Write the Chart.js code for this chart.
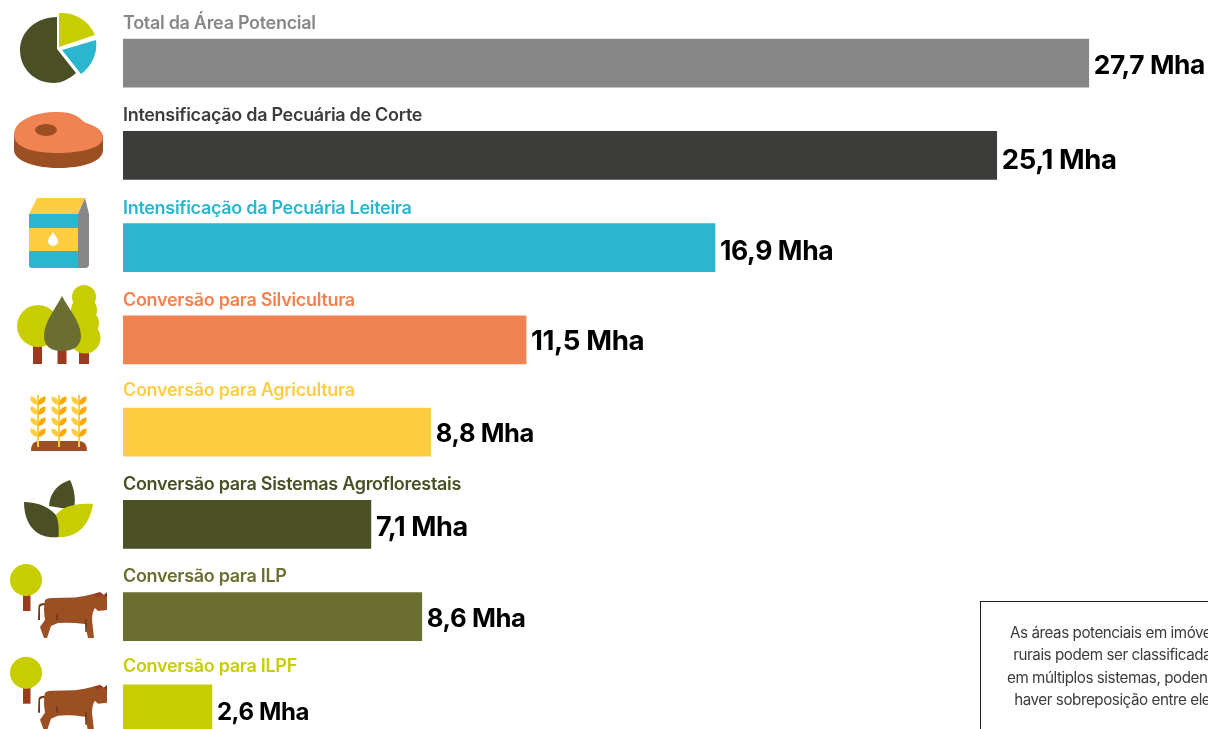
<!DOCTYPE html>
<html lang="pt">
<head>
<meta charset="utf-8">
<title>Área potencial</title>
<script src="https://cdn.jsdelivr.net/npm/chart.js@4"></script>
<style>
  html, body { margin: 0; background: #fff; width: 1208px; height: 729px; overflow: hidden; }
  #myChart { position: absolute; left: 0; top: 0; }
  #icons { position: absolute; left: 0; top: 0; }
  .note {
    position: absolute; left: 980px; top: 601px; width: 272px; height: 160px;
    border: 1px solid #1d1d1b; box-sizing: border-box; padding-top: 20px;
    font: 15.2px/22.3px Inter, sans-serif; letter-spacing: -0.45px; color: #3c3c3b; text-align: center;
  }
</style>
</head>
<body>
<canvas id="myChart" width="1208" height="770"></canvas>

<svg id="icons" width="1208" height="729" viewBox="0 0 1208 729">
  <defs>
    <g id="leafPair">
      <path d="M0 0 C-6 -1 -8 -4 -7.5 -8.5 C-3 -8.5 0 -5 0 0Z" fill="#ffcd42"/>
      <path d="M0 0 C6 -1 8 -4 7.5 -8.5 C3 -8.5 0 -5 0 0Z" fill="#fba800"/>
    </g>
    <g id="wheat">
      <rect x="-1" y="0" width="2" height="52" fill="#ffcd42"/>
      <use href="#leafPair" y="10"/>
      <use href="#leafPair" y="20"/>
      <use href="#leafPair" y="31"/>
      <use href="#leafPair" y="42"/>
    </g>
    <g id="treeCow">
      <rect x="23" y="594" width="7.5" height="17" fill="#9b3a1f"/>
      <circle cx="26" cy="580" r="16" fill="#c8cd00"/>
      <path d="M38 620 L38.5 606 Q39 603 45 603 L45 605 Q41 605 40 607 L40 620Z" fill="#6b3a1c"/>
      <path d="M45 600 Q47 598 52 598 L75 597.5 Q85 596 93 594 L103 595 L107 594 L107 610 L98 611 L95 608 Q92 612 92 620 L94 638 L88 638 L85 624 Q70 622 58 623 L51 626 L47 638 L44 638 L40 627 L45 620 Q43 608 45 600Z" fill="#9b4f23"/>
      <path d="M93 594 L100 592 L104 595 L97 597Z" fill="#9b3a1f"/>
      <path d="M104 595 L107 592 L107 597Z" fill="#6b3a1c"/>
      <path d="M57 614 V620 M86 619 V632" stroke="#6b3a1c" stroke-width="1.5" fill="none"/>
    </g>
  </defs>

  <!-- pie -->
  <path d="M57 17 L57 49 L76 73 C68 80 60 83 54 83 C34 83 20 68 20 50 C20 32 36 17 57 17Z" fill="#4a4f26"/>
  <path d="M59 13 L59 47 L95 35 A36 36 0 0 0 59 13Z" fill="#c8cd00"/>
  <path d="M62 50 L96 40 A36 36 0 0 1 81 74Z" fill="#29b6ce"/>

  <!-- steak -->
  <path d="M14 135 L14 150 C14 162 38 168 58 168 C82 168 103 162 103 150 L103 135Z" fill="#9b4f23"/>
  <path d="M14 135 C14 120 35 112 58 112 C72 112 78 116 83 121 C88 125 103 126 103 138 C103 148 80 153 58 153 C35 153 14 148 14 135Z" fill="#f18251"/>
  <ellipse cx="46" cy="130" rx="11" ry="6" fill="#9b4f23"/>

  <!-- milk -->
  <path d="M29 214 L37 198 L85 198 L78 214Z" fill="#ffcd42"/>
  <path d="M78 214 L85 198 L89 214 L89 264 Q89 268 85 268 L78 268Z" fill="#878787"/>
  <path d="M29 214 H78 V268 H32 Q29 268 29 265Z" fill="#29b6ce"/>
  <rect x="29" y="228" width="49" height="23" fill="#ffcd42"/>
  <path d="M53 232 C55 236 58 238 58 241 A5 5 0 0 1 48 241 C48 238 51 236 53 232Z" fill="#fff"/>

  <!-- trees -->
  <rect x="33" y="345" width="9" height="19" fill="#9b3a1f"/>
  <rect x="57.5" y="350" width="9" height="14" fill="#9b3a1f"/>
  <rect x="79" y="350" width="10" height="14" fill="#9b3a1f"/>
  <circle cx="38" cy="326" r="21" fill="#c8cd00"/>
  <circle cx="84" cy="297" r="12" fill="#c8cd00"/>
  <circle cx="84" cy="310" r="13" fill="#c8cd00"/>
  <circle cx="86" cy="323" r="13" fill="#c8cd00"/>
  <circle cx="85" cy="338" r="15.5" fill="#c8cd00"/>
  <path d="M62 296 C68 308 81 322 81 336 C81 347 72 351 62 351 C52 351 44 347 44 336 C44 322 56 308 62 296Z" fill="#6b6e31"/>

  <!-- wheat -->
  <use href="#wheat" x="38" y="395"/>
  <use href="#wheat" x="59" y="395"/>
  <use href="#wheat" x="79" y="395"/>
  <path d="M31 451 Q31 441 39 441 H79 Q87 441 87 451Z" fill="#9b4f23"/>
  <rect x="37" y="440" width="2" height="7" fill="#ffcd42"/>
  <rect x="58" y="440" width="2" height="7" fill="#ffcd42"/>
  <rect x="78" y="440" width="2" height="7" fill="#ffcd42"/>

  <!-- leaves -->
  <path d="M70 480 C58 484 50 492 49 506 L74 510 C76 498 74 488 70 480Z" fill="#4a4f26"/>
  <path d="M24 502 C38 502 52 508 58 518 C60 526 60 532 59 537 C36 540 24 524 24 502Z" fill="#4a4f26"/>
  <path d="M93 504 C78 503 62 506 56 515 C59 522 59 530 58.5 537 C78 538 90 524 93 504Z" fill="#c8cd00"/>

  <!-- tree and cow, twice -->
  <use href="#treeCow"/>
  <use href="#treeCow" y="92.7"/>
</svg>

<div class="note">As áreas potenciais em imóveis<br>rurais podem ser classificadas<br>em múltiplos sistemas, podendo<br>haver sobreposição entre eles</div>

<script>
const categories = [
  'Total da Área Potencial',
  'Intensificação da Pecuária de Corte',
  'Intensificação da Pecuária Leiteira',
  'Conversão para Silvicultura',
  'Conversão para Agricultura',
  'Conversão para Sistemas Agroflorestais',
  'Conversão para ILP',
  'Conversão para ILPF'
];
// printed values
const areaMha = [27.7, 25.1, 16.9, 11.5, 8.8, 7.1, 8.6, 2.6];
// bar lengths as measured on the picture, they stray a little from the printed values
const barLengths = [27.7, 25.06, 16.98, 11.56, 8.83, 7.11, 8.57, 2.55];
const barColors = ['#878787', '#3c3c3b', '#29b6ce', '#f18251', '#ffcd42', '#4a4f26', '#6b6e31', '#c8cd00'];

// the labels do not sit at quite the same spot on every row
const nameNudge = [0, 0, 0, 0, -2, 0, -1, -3];
const valueNudge = [1, 3, 2, 0, 0, 1, 1, 2];
const valueSize = [26.3, 27.5, 26.5, 27.7, 25.5, 27, 25.7, 24];

// category name above each bar, value right of it
const barLabels = {
  id: 'barLabels',
  afterDatasetsDraw(chart) {
    const ctx = chart.ctx;
    ctx.save();
    chart.getDatasetMeta(0).data.forEach(function(bar, i) {
      ctx.textBaseline = 'middle';
      ctx.textAlign = 'left';

      ctx.font = '600 18px Inter, sans-serif';
      ctx.letterSpacing = '-0.3px';
      ctx.fillStyle = barColors[i];
      ctx.fillText(categories[i], chart.chartArea.left, bar.y - 39.5 + nameNudge[i]);

      ctx.font = '700 ' + valueSize[i] + 'px Inter, sans-serif';
      ctx.letterSpacing = '-0.4px';
      ctx.fillStyle = '#000';
      ctx.fillText(areaMha[i].toFixed(1).replace('.', ',') + ' Mha', bar.x + 5, bar.y + 2 + valueNudge[i]);
    });
    ctx.restore();
  }
};

new Chart(document.getElementById('myChart'), {
  type: 'bar',
  data: {
    labels: categories,
    datasets: [{
      data: barLengths,
      backgroundColor: barColors,
      barThickness: 48
    }]
  },
  options: {
    indexAxis: 'y',
    responsive: false,
    animation: false,
    layout: { padding: { left: 123, top: 17, bottom: 15 } },
    plugins: { legend: { display: false }, tooltip: { enabled: false } },
    scales: {
      x: { display: false, min: 0, max: 31.12 },
      y: { display: false }
    }
  },
  plugins: [barLabels]
});
</script>
</body>
</html>
